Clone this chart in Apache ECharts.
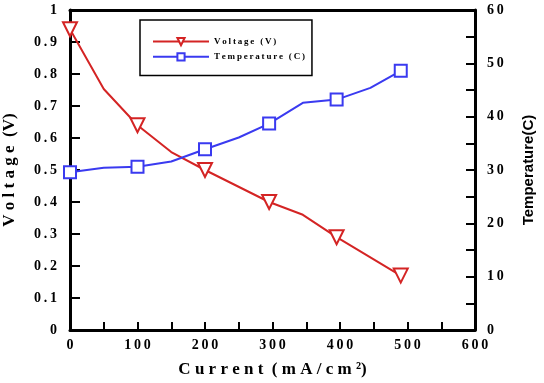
<!DOCTYPE html>
<html>
<head>
    <meta charset="utf-8">
    <title>Voltage / Temperature</title>
    <script src="https://cdn.jsdelivr.net/npm/echarts@6/dist/echarts.min.js"></script>
    <style>
        html, body { margin: 0; padding: 0; background: #fff; }
        #chart-box { width: 544px; height: 383px; }
    </style>
</head>
<body>
<div id="chart-box"></div>
<script type="text/javascript">
    // data
    const currentV = [0, 50, 100, 150, 200, 295, 345, 395, 490];
    const voltage = [0.94, 0.753, 0.64, 0.556, 0.50, 0.40, 0.36, 0.29, 0.17];
    const voltageMarked = [true, false, true, false, true, true, false, true, true];

    const currentT = [0, 50, 100, 150, 200, 250, 295, 345, 395, 445, 490];
    const temperature = [29.6, 30.4, 30.6, 31.6, 33.9, 36.1, 38.7, 42.6, 43.2, 45.4, 48.6];
    const temperatureMarked = [true, false, true, false, true, false, true, false, true, false, true];

    const seriesNames = ["Voltage (V)", "Temperature (C)"];

    const spaced = s => String(s).split("").join("\u2009");
    const serif = "Liberation Serif";
    const RED = "#d42424";
    const BLUE = "#3a3af0";

    function points(xs, ys, marks) {
        return xs.map((x, i) => marks[i] ? [x, ys[i]] : { value: [x, ys[i]], symbol: "none" });
    }

    const tickLabel = {
        fontFamily: serif, fontWeight: "bold", fontSize: 14, color: "#000",
        formatter: v => spaced(v)
    };
    const line = { show: true, onZero: false, lineStyle: { color: "#000", width: 3 } };

    const chart = echarts.init(document.getElementById("chart-box"));
    chart.setOption({
        animation: false,
        grid: { left: 70, right: 69, top: 10, bottom: 53, containLabel: false, outerBoundsMode: "none" },
        legend: {
            data: seriesNames,
            orient: "vertical",
            left: 140, top: 20,
            padding: [17, 7, 14, 12],
            itemGap: 6,
            itemWidth: 56, itemHeight: 9,
            borderColor: "#000", borderWidth: 1.5,
            textStyle: { fontFamily: serif, fontWeight: "bold", fontSize: 9, color: "#000" },
            formatter: n => spaced(n)
        },
        xAxis: [{
            type: "value", min: 0, max: 600, interval: 100,
            name: "C u r r e n t  ( m A / c m ²)",
            nameLocation: "middle", nameGap: 31,
            nameTextStyle: { fontFamily: serif, fontWeight: "bold", fontSize: 17, color: "#000" },
            axisLine: line,
            axisTick: { inside: true, length: 8, lineStyle: { color: "#000", width: 2 } },
            minorTick: { show: true, splitNumber: 2, length: 8, lineStyle: { color: "#000", width: 2 } },
            axisLabel: Object.assign({ margin: 8 }, tickLabel),
            splitLine: { show: false }
        }, {
            type: "value", position: "top", min: 0, max: 600,
            axisLine: line, axisTick: { show: false }, axisLabel: { show: false },
            splitLine: { show: false }
        }],
        yAxis: [{
            type: "value", min: 0, max: 1, interval: 0.1,
            name: "V o l t a g e  (V)",
            nameLocation: "middle", nameGap: 52,
            nameTextStyle: { fontFamily: serif, fontWeight: "bold", fontSize: 17, color: "#000" },
            axisLine: line,
            axisTick: { inside: true, length: 10, lineStyle: { color: "#000", width: 2 } },
            axisLabel: Object.assign({ margin: 13 }, tickLabel),
            splitLine: { show: false }
        }, {
            type: "value", min: 0, max: 60, interval: 10,
            position: "right",
            name: "Temperature(C)",
            nameLocation: "middle", nameGap: 46,
            nameTextStyle: { fontFamily: "Liberation Sans", fontWeight: "bold", fontSize: 15, color: "#000" },
            axisLine: line,
            axisTick: { inside: true, length: 9, lineStyle: { color: "#000", width: 2 } },
            minorTick: { show: true, splitNumber: 2, length: 9, lineStyle: { color: "#000", width: 2 } },
            axisLabel: Object.assign({ margin: 12 }, tickLabel),
            splitLine: { show: false }
        }],
        series: [{
            name: seriesNames[0],
            type: "line",
            yAxisIndex: 0,
            symbol: "emptyTriangle",
            symbolRotate: 180,
            symbolSize: 14,
            lineStyle: { color: RED, width: 2 },
            itemStyle: { color: RED, borderWidth: 1.5 },
            data: points(currentV, voltage, voltageMarked)
        }, {
            name: seriesNames[1],
            type: "line",
            yAxisIndex: 1,
            symbol: "emptyRect",
            symbolSize: 12,
            lineStyle: { color: BLUE, width: 2 },
            itemStyle: { color: BLUE, borderWidth: 1.5 },
            data: points(currentT, temperature, temperatureMarked)
        }]
    });
</script>
</body>
</html>
